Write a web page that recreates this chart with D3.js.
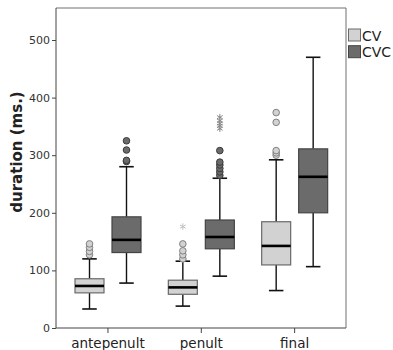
<!DOCTYPE html>
<html>
<head>
<meta charset="utf-8">
<script src="https://cdn.jsdelivr.net/npm/d3@7"></script>
<style>
  html, body { margin: 0; padding: 0; background: #fff; }
  svg { display: block; }
  text { font-family: "DejaVu Sans", sans-serif; }
</style>
</head>
<body>
<svg id="chart" width="393" height="350"></svg>
<script>
// Syllable position categories and syllable types
const categories = ["antepenult", "penult", "final"];
const series = ["CV", "CVC"];
const yTicks = [0, 100, 200, 300, 400, 500];

// Box-plot summaries (ms), one value per category
const cvLow    = [33, 38, 65];
const cvQ1     = [61, 58.5, 109.5];
const cvMedian = [73, 70.5, 142.5];
const cvQ3     = [85.5, 83, 184.5];
const cvHigh   = [120, 116, 292];

const cvcLow    = [78, 90, 106.5];
const cvcQ1     = [131, 137.5, 200];
const cvcMedian = [153, 158, 262.5];
const cvcQ3     = [193, 187.5, 311];
const cvcHigh   = [280, 260, 470];

// Outliers (circles) and extreme values (asterisks)
const cvOutliers  = [[127, 133, 140, 146], [120, 127, 134, 146], [300, 304, 308, 357, 374]];
const cvExtremes  = [[], [176], []];
const cvcOutliers = [[289, 291, 309, 325], [265, 271, 277, 283, 288, 308], []];
const cvcExtremes = [[], [346, 351, 355, 360, 366], []];

const fills   = { CV: "#d2d2d2", CVC: "#6b6b6b" };
const strokes = { CV: "#6a6a6a", CVC: "#444444" };

const svg = d3.select("#chart");
const frame = { left: 56, right: 346, top: 8, bottom: 328 };

const x = d3.scaleBand().domain(categories).range([61.3, 341.3]);
const xs = d3.scaleBand().domain(series).range([13.7, 79.7]).paddingInner(0.216);
const y = d3.scaleLinear().domain([0, 500]).range([328, 40]);

// Build one record per box
const boxes = [];
categories.forEach((c, i) => {
  boxes.push({ cat: c, s: "CV", low: cvLow[i], q1: cvQ1[i], med: cvMedian[i], q3: cvQ3[i], high: cvHigh[i],
               out: cvOutliers[i], ext: cvExtremes[i] });
  boxes.push({ cat: c, s: "CVC", low: cvcLow[i], q1: cvcQ1[i], med: cvcMedian[i], q3: cvcQ3[i], high: cvcHigh[i],
               out: cvcOutliers[i], ext: cvcExtremes[i] });
});

// Plot frame (top and right edges)
svg.append("path")
  .attr("d", `M${frame.left},${frame.top}H${frame.right}V${frame.bottom}`)
  .attr("fill", "none").attr("stroke", "#707070").attr("stroke-width", 1);

// Y axis
const yAxis = svg.append("g").attr("transform", `translate(${frame.left},0)`)
  .call(d3.axisLeft(y).tickValues(yTicks).tickSize(4).tickPadding(2));
yAxis.select(".domain").remove();
yAxis.append("line").attr("x1", 0).attr("x2", 0).attr("y1", frame.top).attr("y2", frame.bottom)
  .attr("stroke", "#444");
yAxis.selectAll(".tick line").attr("stroke", "#444");
yAxis.selectAll(".tick text").attr("fill", "#333").style("font-size", "11px")
  .style("font-family", "'DejaVu Sans', sans-serif");

// X axis
const xAxis = svg.append("g").attr("transform", `translate(0,${frame.bottom})`)
  .call(d3.axisBottom(x).tickSize(5).tickPadding(5));
xAxis.select(".domain").remove();
xAxis.append("line").attr("x1", frame.left).attr("x2", frame.right).attr("y1", 0).attr("y2", 0)
  .attr("stroke", "#444");
xAxis.selectAll(".tick line").attr("stroke", "#444");
xAxis.selectAll(".tick text").attr("fill", "#222").style("font-size", "13.5px")
  .style("font-family", "'DejaVu Sans', sans-serif");

// Y axis title
svg.append("text")
  .attr("transform", "translate(22,152) rotate(-90)")
  .attr("text-anchor", "middle")
  .style("font-size", "15px").style("font-weight", "bold").attr("fill", "#222")
  .text("duration (ms.)");

// Boxes
const g = svg.append("g");
const bw = xs.bandwidth();
boxes.forEach(b => {
  const x0 = x(b.cat) + xs(b.s);
  const cx = x0 + bw / 2;
  const cap = bw / 2;
  const gb = g.append("g");
  // whiskers
  gb.append("line").attr("x1", cx).attr("x2", cx).attr("y1", y(b.q3)).attr("y2", y(b.high))
    .attr("stroke", "#111").attr("stroke-width", 1.4);
  gb.append("line").attr("x1", cx).attr("x2", cx).attr("y1", y(b.q1)).attr("y2", y(b.low))
    .attr("stroke", "#111").attr("stroke-width", 1.4);
  gb.append("line").attr("x1", cx - cap / 2).attr("x2", cx + cap / 2).attr("y1", y(b.high)).attr("y2", y(b.high))
    .attr("stroke", "#111").attr("stroke-width", 1.6);
  gb.append("line").attr("x1", cx - cap / 2).attr("x2", cx + cap / 2).attr("y1", y(b.low)).attr("y2", y(b.low))
    .attr("stroke", "#111").attr("stroke-width", 1.6);
  // box
  gb.append("rect").attr("x", x0).attr("y", y(b.q3)).attr("width", bw).attr("height", y(b.q1) - y(b.q3))
    .attr("fill", fills[b.s]).attr("stroke", strokes[b.s]).attr("stroke-width", 1.2);
  // median
  gb.append("line").attr("x1", x0).attr("x2", x0 + bw).attr("y1", y(b.med)).attr("y2", y(b.med))
    .attr("stroke", "#000").attr("stroke-width", 2.6);
  // outliers
  gb.selectAll("circle.o").data(b.out).join("circle").attr("class", "o")
    .attr("cx", cx).attr("cy", d => y(d)).attr("r", 3.3)
    .attr("fill", fills[b.s]).attr("stroke", b.s === "CV" ? "#808080" : "#3a3a3a").attr("stroke-width", 1);
  // extremes
  gb.selectAll("path.e").data(b.ext).join("path").attr("class", "e")
    .attr("transform", d => `translate(${cx},${y(d)})`)
    .attr("d", d3.symbol(d3.symbolAsterisk, 30))
    .attr("fill", "none").attr("stroke", b.s === "CV" ? "#c0c0c0" : "#8a8a8a").attr("stroke-width", 1);
});

// Legend
const legend = svg.append("g");
series.forEach((s, i) => {
  const ly = 29 + i * 16.7;
  legend.append("rect").attr("x", 348.5).attr("y", ly).attr("width", 12).attr("height", 12)
    .attr("fill", fills[s]).attr("stroke", strokes[s]).attr("stroke-width", 1);
  legend.append("text").attr("x", 362).attr("y", ly + 11.5)
    .style("font-size", "14px").attr("fill", "#222").text(s);
});
</script>
</body>
</html>
